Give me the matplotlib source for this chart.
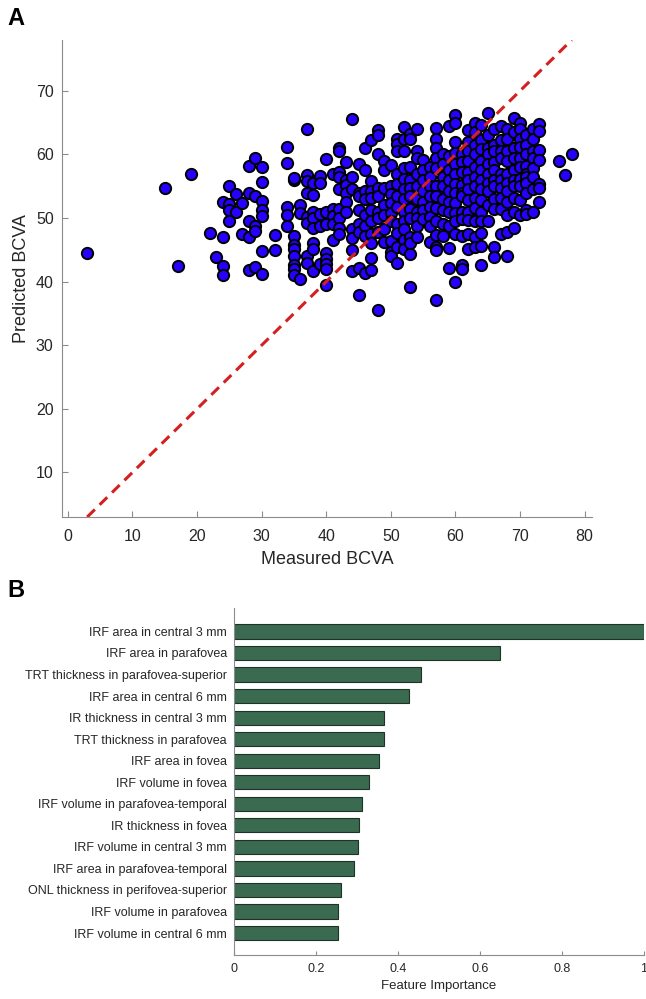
import matplotlib
matplotlib.use("Agg")
import matplotlib.pyplot as plt
import numpy as np

plt.rcParams['font.family'] = ['Liberation Sans', 'DejaVu Sans']

# ---- Panel A data: (measured, predicted) grouped by measured value ----
pred_by_measured = {
    3: [44.5], 15: [54.7], 17: [42.5], 19: [57.0], 22: [47.7], 23: [43.8],
    24: [52.5, 47.0, 42.5, 41.1],
    25: [55.0, 52.2, 51.3, 49.5],
    26: [53.8, 51.0],
    27: [52.3, 47.5],
    28: [58.2, 54.0, 49.5, 47.0, 41.8],
    29: [59.4, 53.5, 48.8, 48.0, 42.3],
    30: [58.0, 55.6, 52.7, 51.3, 50.4, 44.8, 41.2],
    32: [47.4, 44.9],
    34: [61.1, 58.7, 51.7, 50.5, 48.8],
    35: [56.0, 56.3, 47.1, 45.8, 45.2, 44.1, 42.6, 42.0, 41.0],
    36: [52.1, 50.8, 40.4],
    37: [64.0, 56.7, 55.8, 54.0, 50.2, 49.2, 44.0, 43.0],
    38: [55.5, 53.6, 51.0, 50.0, 48.5, 46.0, 45.2, 41.6],
    39: [56.6, 55.5, 50.7, 48.8, 42.8],
    40: [59.3, 51.0, 49.0, 44.5, 43.6, 42.8, 42.0, 39.4],
    41: [57.0, 51.5, 50.3, 49.0, 46.5],
    42: [61.0, 60.6, 57.2, 56.5, 54.5, 51.5, 50.0, 48.5, 47.5],
    43: [58.8, 56.0, 55.2, 54.0, 52.5, 51.0],
    44: [65.5, 56.5, 54.5, 48.2, 46.8, 44.9, 41.7],
    45: [58.5, 54.0, 53.5, 51.3, 49.0, 47.8, 42.2, 37.9],
    46: [61.0, 57.6, 54.2, 53.0, 50.5, 48.8, 47.2, 41.4],
    47: [62.2, 55.8, 54.3, 53.2, 51.2, 49.5, 47.5, 46.0, 43.7, 41.8],
    48: [63.8, 63.0, 60.1, 54.8, 53.4, 51.0, 50.0, 47.8, 35.5],
    49: [59.0, 57.6, 54.8, 52.0, 50.5, 48.2, 46.2],
    50: [58.4, 55.0, 53.8, 52.4, 50.8, 49.5, 46.4, 44.6, 44.0],
    51: [62.5, 61.6, 60.5, 57.0, 55.4, 53.4, 51.8, 49.0, 47.6, 45.4, 43.0],
    52: [64.3, 62.5, 60.5, 57.8, 56.2, 54.5, 53.0, 51.0, 49.5, 48.2, 46.5, 45.2],
    53: [63.2, 62.5, 58.0, 56.0, 54.8, 53.5, 51.5, 50.0, 47.0, 46.0, 44.3, 39.2],
    54: [64.0, 60.5, 59.5, 57.0, 55.0, 53.0, 51.0, 50.0, 48.8, 47.0],
    55: [59.2, 57.5, 56.0, 54.3, 52.6, 51.2, 49.8],
    56: [58.0, 56.5, 55.0, 53.4, 51.8, 50.2, 48.8, 46.2],
    57: [64.2, 62.4, 61.0, 59.5, 57.8, 55.0, 53.5, 51.6, 49.5, 47.4, 45.5, 45.0, 37.1],
    58: [60.0, 58.5, 56.5, 55.0, 53.0, 51.2, 49.0, 47.2],
    59: [64.5, 59.8, 57.6, 56.0, 54.2, 52.5, 51.0, 48.8, 45.3, 42.1],
    60: [66.2, 65.0, 62.0, 60.3, 58.5, 57.0, 55.4, 54.0, 52.4, 50.8, 49.5, 47.5, 39.9],
    61: [60.0, 58.8, 57.2, 55.2, 54.0, 53.5, 51.0, 49.8, 47.2, 42.6, 42.0],
    62: [63.9, 62.0, 60.5, 59.0, 57.3, 56.0, 54.6, 52.8, 51.0, 49.7, 47.5, 45.2],
    63: [65.0, 63.5, 61.5, 60.0, 58.0, 56.5, 55.0, 53.2, 51.6, 49.5, 47.0, 45.5],
    64: [64.7, 62.2, 60.8, 59.0, 57.5, 56.0, 54.5, 52.8, 51.0, 49.5, 47.7, 45.6, 42.6],
    65: [66.5, 63.0, 61.0, 60.0, 58.5, 57.0, 55.5, 54.3, 52.0, 49.5],
    66: [64.0, 61.5, 60.5, 58.8, 57.5, 56.0, 55.0, 53.0, 51.5, 45.5, 43.8],
    67: [64.5, 62.2, 60.5, 59.5, 57.0, 56.0, 54.8, 53.2, 51.5, 47.5],
    68: [64.0, 62.5, 60.5, 59.0, 57.0, 55.5, 54.2, 52.5, 50.5, 47.8, 44.1],
    69: [65.8, 63.5, 61.0, 59.5, 57.5, 56.0, 55.0, 53.2, 51.0, 48.5],
    70: [65.0, 64.0, 62.5, 61.2, 59.5, 58.0, 56.2, 55.0, 52.8, 50.5],
    71: [63.0, 61.5, 60.0, 58.2, 57.0, 56.5, 55.5, 54.0, 51.2, 50.6],
    72: [64.0, 62.5, 60.5, 59.5, 57.8, 56.5, 54.5, 51.0],
    73: [64.8, 63.7, 60.7, 59.2, 55.3, 54.8, 52.6],
    76: [59.0], 77: [56.8], 78: [60.0],
}
measured = [m for m, ps in pred_by_measured.items() for _ in ps]
predicted = [p for ps in pred_by_measured.values() for p in ps]

# ---- Panel B data ----
features = [
    "IRF area in central 3 mm",
    "IRF area in parafovea",
    "TRT thickness in parafovea-superior",
    "IRF area in central 6 mm",
    "IR thickness in central 3 mm",
    "TRT thickness in parafovea",
    "IRF area in fovea",
    "IRF volume in fovea",
    "IRF volume in parafovea-temporal",
    "IR thickness in fovea",
    "IRF volume in central 3 mm",
    "IRF area in parafovea-temporal",
    "ONL thickness in perifovea-superior",
    "IRF volume in parafovea",
    "IRF volume in central 6 mm",
]
importance = [1.0, 0.648, 0.456, 0.428, 0.366, 0.366, 0.353, 0.329,
              0.312, 0.306, 0.303, 0.292, 0.261, 0.255, 0.255]

fig = plt.figure(figsize=(6.46, 9.99), dpi=100)
spine_col = '#8c8c8c'
text_col = '#262626'

# ---- Panel A ----
ax1 = fig.add_axes([0.096, 0.4825, 0.820, 0.4775])
ax1.scatter(measured, predicted, s=66, facecolor='#2600ff', edgecolor='black',
            linewidth=1.4, zorder=3)
lo, hi = min(measured), max(measured)
ax1.plot([lo, hi], [lo, hi], linestyle=(0, (3.5, 2.2)), color='#d42020',
         linewidth=2.2, zorder=4)
ax1.set_xlim(-0.9, 81.1)
ax1.set_ylim(lo, hi)
ax1.set_xticks(np.arange(0, 81, 10))
ax1.set_yticks(np.arange(10, 71, 10))
for s in ['top', 'right']:
    ax1.spines[s].set_visible(False)
for s in ['left', 'bottom']:
    ax1.spines[s].set_color(spine_col)
ax1.tick_params(direction='in', length=4, color=spine_col, labelsize=11.5,
                labelcolor=text_col, pad=6)
ax1.tick_params(axis='x', pad=9)
ax1.set_xlabel('Measured BCVA', fontsize=13, color=text_col, labelpad=5)
ax1.set_ylabel('Predicted BCVA', fontsize=13, color=text_col, labelpad=4)

# ---- Panel B ----
ax2 = fig.add_axes([0.362, 0.044, 0.635, 0.347])
ypos = np.arange(len(features))
ax2.barh(ypos, importance, height=0.66, color='#3a6b50', edgecolor='#1e3326',
         linewidth=0.8)
ax2.set_ylim(len(features) - 1 + 1.02, -1.07)
ax2.set_xlim(0, 1)
ax2.set_yticks(ypos)
ax2.set_yticklabels(features)
ax2.set_xticks([0, 0.2, 0.4, 0.6, 0.8, 1])
ax2.set_xticklabels(['0', '0.2', '0.4', '0.6', '0.8', '1'])
for s in ['top', 'right']:
    ax2.spines[s].set_visible(False)
for s in ['left', 'bottom']:
    ax2.spines[s].set_color(spine_col)
ax2.tick_params(axis='x', direction='in', length=3, color=spine_col,
                labelsize=9, labelcolor=text_col, pad=6)
ax2.tick_params(axis='y', length=0, labelsize=9, labelcolor=text_col, pad=5)
ax2.set_xlabel('Feature Importance', fontsize=9.5, color=text_col, labelpad=3)

fig.text(0.012, 0.993, 'A', fontsize=17, fontweight='bold', va='top', ha='left')
fig.text(0.012, 0.42, 'B', fontsize=17, fontweight='bold', va='top', ha='left')

fig.savefig('out.png', dpi=100)
